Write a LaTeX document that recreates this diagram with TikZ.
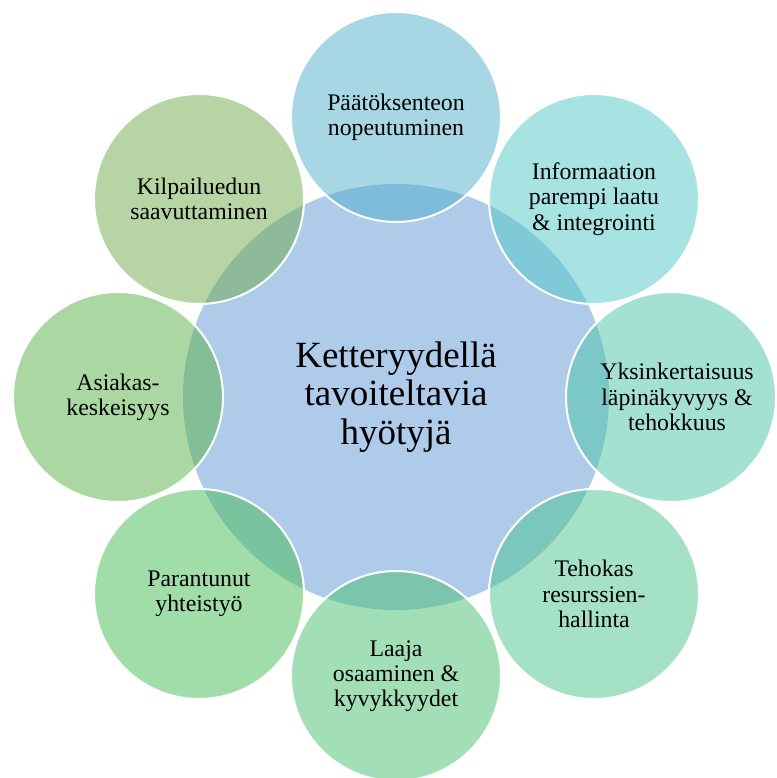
\documentclass[tikz,border=0pt]{standalone}
\usepackage{fontspec}
\setmainfont{Liberation Serif}
\definecolor{hubfill}{RGB}{174,203,233}
\definecolor{satA}{RGB}{81,175,205}
\definecolor{satB}{RGB}{81,201,201}
\definecolor{satC}{RGB}{75,197,169}
\definecolor{satD}{RGB}{75,197,145}
\definecolor{satE}{RGB}{71,193,113}
\definecolor{satF}{RGB}{69,189,85}
\definecolor{satG}{RGB}{89,179,71}
\definecolor{satH}{RGB}{111,171,75}
\tikzset{
  hub/.style={circle, fill=hubfill, minimum size=426pt, inner sep=0pt,
    align=center, font=\fontsize{37}{38.5}\selectfont},
  sattext/.style={align=center, inner sep=0pt,
    font=\fontsize{23.8}{25.2}\selectfont},
  sat/.style={circle, fill=#1, draw=white, line width=2pt, fill opacity=0.5,
    draw opacity=1, text opacity=1, minimum size=210pt, sattext}
}
\begin{document}
\begin{tikzpicture}[x=1pt,y=-1pt]
\useasboundingbox (0,0) rectangle (776,778);
\clip (0,0) rectangle (776,778);
\fill[white] (0,0) rectangle (776,778);
% hub in the middle
\node[hub] (hub) at (396,397) {Ketteryydellä\\tavoiteltavia\\hyötyjä};
% eight benefits around the hub
\node[sat=satA] (s1) at (396,117) {Päätöksenteon\\nopeutuminen};
\node[sat=satB] (s2) at (594,199) {Informaation\\parempi laatu\\\& integrointi};
\node[sat=satC] (s3) at (671,397) {};
\node[sattext] (t3) at ([xshift=6pt]s3.center) {Yksinkertaisuus\\läpinäkyvyys \&\\tehokkuus};
\node[sat=satD] (s4) at (594,594) {Tehokas\\resurssien-\\hallinta};
\node[sat=satE] (s5) at (396,676) {Laaja\\osaaminen \&\\kyvykkyydet};
\node[sat=satF] (s6) at (199,594) {Parantunut\\yhteistyö};
\node[sat=satG] (s7) at (118,397) {Asiakas-\\keskeisyys};
\node[sat=satH] (s8) at (199,199) {Kilpailuedun\\saavuttaminen};
\end{tikzpicture}
\end{document}
